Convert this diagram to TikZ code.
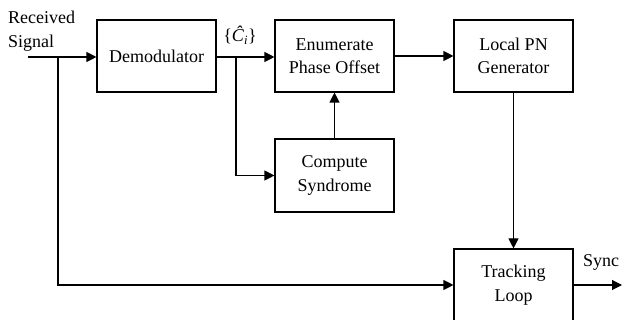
\documentclass[tikz,border=0pt]{standalone}
\usepackage{fontspec}
\setmainfont{Liberation Serif}
\usetikzlibrary{arrows.meta}
\begin{document}
\begin{tikzpicture}[x=1pt,y=-1pt,
  blk/.style={draw,line width=1.1pt,minimum width=119pt,minimum height=72pt,inner sep=0pt,align=center,font=\fontsize{18}{23.5}\selectfont},
  lbl/.style={inner sep=0pt,font=\fontsize{18}{23.5}\selectfont},
  wire/.style={line width=1.1pt},
  arr/.style={wire,-{Triangle[length=10pt,width=10pt]}}]
\useasboundingbox (0,0) rectangle (622,320);
\clip (0,0) rectangle (622,320);
\node[blk] (demod) at (156.5,56) {Demodulator};
\node[blk] (enum) at (334.5,56) {Enumerate\\Phase Offset};
\node[blk] (pn) at (513.5,56) {Local PN\\Generator};
\node[blk,minimum height=73pt] (synd) at (334.5,175.5) {Compute\\Syndrome};
\node[blk] (track) at (513.5,285) {Tracking\\Loop};
\coordinate (in) at (28,57);
\coordinate (b1) at (58,57);
\coordinate (b2) at (236,57);
\coordinate (out) at (622,285);
\node[lbl,anchor=west,align=left] (rx) at (8,31) {Received\\Signal};
\node[lbl] (ci) at (240,35) {\{\textit{Ĉ}\textsubscript{\textit{i}}\}};
\node[lbl] (sync) at (601,262) {Sync};
\draw[arr] (in) -- (demod.west |- in);
\draw[arr] (demod.east |- b2) -- (enum.west |- b2);
\draw[arr] (b2) |- (synd.west);
\draw[arr] (synd.north) -- (enum.south);
\draw[arr] (enum.east) -- (pn.west);
\draw[arr] (pn.south) -- (track.north);
\draw[arr] (b1) |- (track.west);
\draw[arr] (track.east) -- (out);
\end{tikzpicture}
\end{document}
